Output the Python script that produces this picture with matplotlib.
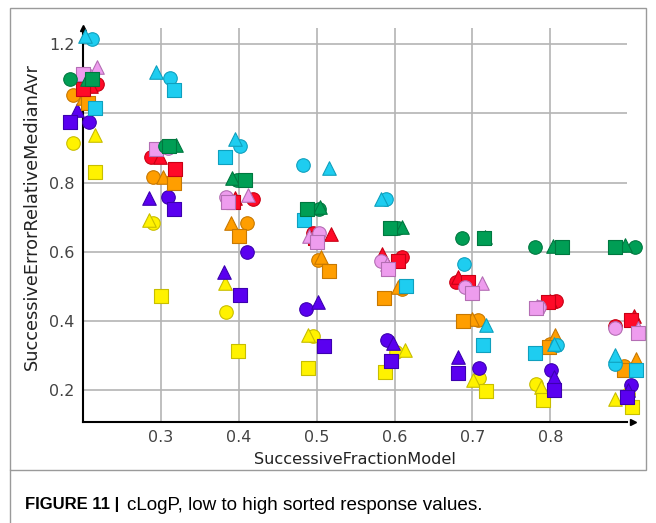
import matplotlib.pyplot as plt
from matplotlib.patches import Rectangle
from matplotlib.lines import Line2D

# Per colour: rows are circle, triangle, square; columns are the 8 model fractions
green_x = [[0.183, 0.305, 0.398, 0.503, 0.604, 0.686, 0.780, 0.909],
           [0.205, 0.320, 0.391, 0.504, 0.609, 0.716, 0.803, 0.896],
           [0.212, 0.311, 0.408, 0.488, 0.594, 0.715, 0.815, 0.883]]
green_y = [[1.099, 0.907, 0.807, 0.725, 0.669, 0.640, 0.614, 0.615],
           [1.100, 0.909, 0.813, 0.730, 0.672, 0.643, 0.617, 0.620],
           [1.099, 0.907, 0.807, 0.725, 0.669, 0.640, 0.614, 0.615]]

cyan_x = [[0.212, 0.312, 0.401, 0.482, 0.589, 0.689, 0.809, 0.883],
          [0.203, 0.294, 0.395, 0.516, 0.583, 0.717, 0.805, 0.883],
          [0.215, 0.317, 0.382, 0.484, 0.615, 0.713, 0.780, 0.910]]
cyan_y = [[1.214, 1.103, 0.907, 0.852, 0.753, 0.565, 0.330, 0.275],
          [1.224, 1.120, 0.925, 0.843, 0.753, 0.388, 0.335, 0.301],
          [1.015, 1.068, 0.873, 0.691, 0.501, 0.332, 0.308, 0.258]]

red_x = [[0.218, 0.287, 0.418, 0.495, 0.609, 0.679, 0.807, 0.883],
         [0.210, 0.299, 0.395, 0.518, 0.584, 0.681, 0.800, 0.908],
         [0.200, 0.318, 0.393, 0.498, 0.604, 0.694, 0.797, 0.904]]
red_y = [[1.086, 0.873, 0.753, 0.656, 0.586, 0.514, 0.459, 0.386],
         [1.080, 0.873, 0.755, 0.651, 0.594, 0.528, 0.457, 0.414],
         [1.070, 0.839, 0.743, 0.640, 0.574, 0.514, 0.456, 0.403]]

violet_x = [[0.205, 0.309, 0.384, 0.503, 0.582, 0.690, 0.785, 0.883],
            [0.218, 0.310, 0.412, 0.490, 0.590, 0.712, 0.783, 0.913],
            [0.200, 0.294, 0.386, 0.500, 0.591, 0.700, 0.781, 0.912]]
violet_y = [[1.110, 0.900, 0.760, 0.656, 0.574, 0.500, 0.440, 0.379],
            [1.134, 0.905, 0.765, 0.646, 0.565, 0.511, 0.445, 0.380],
            [1.113, 0.898, 0.743, 0.630, 0.551, 0.482, 0.437, 0.366]]

orange_x = [[0.187, 0.290, 0.410, 0.502, 0.609, 0.707, 0.800, 0.895],
            [0.200, 0.303, 0.390, 0.505, 0.605, 0.700, 0.806, 0.910],
            [0.207, 0.317, 0.400, 0.516, 0.586, 0.688, 0.798, 0.894]]
orange_y = [[1.052, 0.816, 0.683, 0.577, 0.492, 0.403, 0.335, 0.270],
            [1.045, 0.816, 0.683, 0.585, 0.500, 0.405, 0.359, 0.292],
            [1.031, 0.799, 0.646, 0.546, 0.466, 0.400, 0.326, 0.258]]

blue_x = [[0.208, 0.309, 0.410, 0.486, 0.590, 0.709, 0.801, 0.904],
          [0.192, 0.285, 0.381, 0.502, 0.598, 0.681, 0.805, 0.900],
          [0.183, 0.317, 0.401, 0.510, 0.595, 0.682, 0.805, 0.898]]
blue_y = [[0.976, 0.760, 0.599, 0.434, 0.345, 0.266, 0.260, 0.215],
          [1.009, 0.756, 0.543, 0.456, 0.337, 0.297, 0.240, 0.200],
          [0.975, 0.725, 0.477, 0.328, 0.285, 0.251, 0.202, 0.181]]

yellow_x = [[0.187, 0.290, 0.384, 0.495, 0.602, 0.708, 0.782, 0.900],
            [0.215, 0.285, 0.382, 0.489, 0.613, 0.701, 0.788, 0.883],
            [0.215, 0.300, 0.399, 0.489, 0.588, 0.717, 0.791, 0.905]]
yellow_y = [[0.915, 0.685, 0.427, 0.357, 0.311, 0.236, 0.219, 0.190],
            [0.937, 0.693, 0.509, 0.361, 0.316, 0.231, 0.210, 0.176],
            [0.830, 0.473, 0.313, 0.266, 0.253, 0.198, 0.171, 0.152]]

x_ticks = [0.3, 0.4, 0.5, 0.6, 0.7, 0.8]
y_grid = [0.2, 0.4, 0.6, 0.8, 1.0, 1.2]
y_labels = ["0.2", "0.4", "0.6", "0.8", "", "1.2"]

markers = ["o", "^", "s"]

# drawing order: later colours sit on top
series = [
    (yellow_x, yellow_y, "#FFF200", "#C8BE00"),
    (blue_x, blue_y, "#5A00F0", "#3C00B0"),
    (orange_x, orange_y, "#FF9E00", "#C87800"),
    (cyan_x, cyan_y, "#1ECDF0", "#0FA0BE"),
    (red_x, red_y, "#FF0A28", "#C80014"),
    (violet_x, violet_y, "#EE9CEE", "#B46EB4"),
    (green_x, green_y, "#009E55", "#007840"),
]

fig = plt.figure(figsize=(6.56, 5.23), dpi=100)
ax = fig.add_axes([0.1265, 0.1937, 0.83, 0.7528])

for xs, ys, face, edge in series:
    for k, m in enumerate(markers):
        ax.scatter(xs[k], ys[k], marker=m, s=95, facecolor=face,
                   edgecolor=edge, linewidth=0.8, clip_on=False, zorder=3)

ax.set_xlim(0.2, 0.899)
ax.set_ylim(0.1096, 1.247)
ax.set_xticks(x_ticks)
ax.set_yticks(y_grid)
ax.set_yticklabels(y_labels)
ax.grid(True, color="#b4b4b4", linewidth=1.2, zorder=0)
ax.set_axisbelow(True)
ax.tick_params(length=0, labelsize=11.5, labelcolor="#444444", pad=6)

for side in ["top", "right"]:
    ax.spines[side].set_visible(False)
for side in ["left", "bottom"]:
    ax.spines[side].set_color("black")
    ax.spines[side].set_linewidth(1.5)
    ax.spines[side].set_zorder(2)

# small arrow heads at the axis ends
ax.plot(1.01, 0, ">k", markersize=5, transform=ax.transAxes, clip_on=False)
ax.plot(0, 1, "^k", markersize=5, transform=ax.transAxes, clip_on=False)

ax.set_xlabel("SuccessiveFractionModel", fontsize=11.6, color="#222222", labelpad=5)
ax.set_ylabel("SuccessiveErrorRelativeMedianAvr", fontsize=12.8, color="#222222")
ax.yaxis.set_label_coords(-0.077, 0.52)

# grey frame round the figure and caption
fig.patches.append(Rectangle((10 / 656, 1 - 470 / 523), 636 / 656, 462 / 523,
                             transform=fig.transFigure, fill=False,
                             edgecolor="#9a9a9a", linewidth=1.0))
fig.add_artist(Line2D([10 / 656, 10 / 656], [0, 1 - 470 / 523],
                      transform=fig.transFigure, color="#9a9a9a", linewidth=1.0))

fig.text(25 / 656, 1 - 505 / 523, "FIGURE 11 |", fontsize=12, fontweight="bold",
         family="Liberation Sans", va="center", ha="left")
fig.text(127 / 656, 1 - 505 / 523, "cLogP, low to high sorted response values.",
         fontsize=13.6, family="Liberation Sans", va="center", ha="left")

fig.savefig("out.png", dpi=100)
